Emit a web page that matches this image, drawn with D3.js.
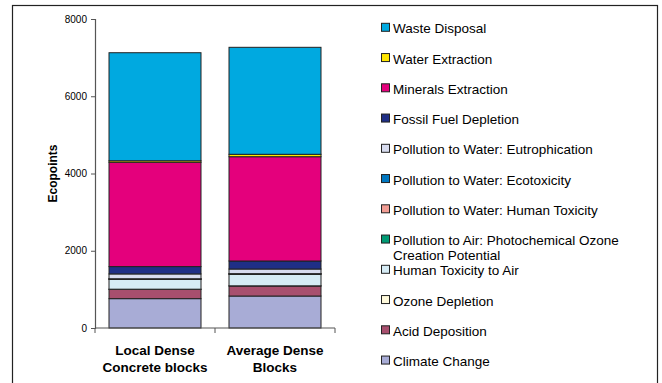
<!DOCTYPE html>
<html><head><meta charset="utf-8">
<script src="https://cdn.jsdelivr.net/npm/d3@7"></script>
<style>body{margin:0;background:#fff;}svg{display:block;font-family:"Liberation Sans",Arial,sans-serif;}</style>
</head><body>
<svg id="c" width="662" height="383"></svg>
<script>
const categories = [["Local Dense","Concrete blocks"],["Average Dense","Blocks"]];
const seriesNames = ["Climate Change","Acid Deposition","Ozone Depletion","Human Toxicity to Air","Pollution to Air: Photochemical Ozone Creation Potential","Pollution to Water: Human Toxicity","Pollution to Water: Ecotoxicity","Pollution to Water: Eutrophication","Fossil Fuel Depletion","Minerals Extraction","Water Extraction","Waste Disposal"];
const localValues   = [760, 240, 5, 255, 5, 5, 5, 125, 190, 2700, 40, 2797];
const averageValues = [828, 259, 5, 300, 5, 5, 5, 120, 208, 2700, 62, 2770];
const seriesColors = ["#a8acd6","#a84f6e","#fffadc","#d6ecf5","#009a74","#f29d94","#0077c0","#d8dcef","#1f2f86","#e4007c","#ffe600","#00a9e0"];
const yTicks = [0, 2000, 4000, 6000, 8000];

const svg = d3.select("#c");
svg.append("rect").attr("x",12.5).attr("y",5.5).attr("width",645).attr("height",400)
  .attr("fill","#fff").attr("stroke","#222").attr("stroke-width",1.2);

const y = d3.scaleLinear().domain([0,8000]).range([328,19]);
const x = d3.scaleBand().domain([0,1]).range([95,335]).paddingInner(28/120).paddingOuter(14/120);

const rows = [localValues, averageValues].map((v,i)=>{const o={cat:i}; seriesNames.forEach((s,j)=>o[s]=v[j]); return o;});
const stack = d3.stack().keys(seriesNames)(rows);

const g = svg.append("g");
stack.forEach((layer,li)=>{
  g.selectAll(null).data(layer).enter().append("rect")
    .attr("x",d=>x(d.data.cat)).attr("width",x.bandwidth())
    .attr("y",d=>y(d[1])).attr("height",d=>y(d[0])-y(d[1]))
    .attr("fill",seriesColors[li]).attr("stroke","#222").attr("stroke-width",1);
});

// y axis
const yAxis = svg.append("g").attr("transform","translate(95,0)")
  .call(d3.axisLeft(y).tickValues(yTicks).tickSize(4).tickPadding(4).tickFormat(d3.format("d")));
yAxis.select(".domain").attr("stroke","#555").attr("stroke-width",1.2);
yAxis.selectAll(".tick line").attr("stroke","#555");
yAxis.selectAll("text").attr("font-size",10).attr("fill","#000").attr("font-family","Liberation Sans, Arial, sans-serif");

// x axis
svg.append("line").attr("x1",95).attr("x2",335).attr("y1",y(0)).attr("y2",y(0)).attr("stroke","#555").attr("stroke-width",1.2);
const bounds = [0,1,2].map(i=>95 + i*x.step());
svg.selectAll(null).data(bounds).enter().append("line")
  .attr("x1",d=>d).attr("x2",d=>d).attr("y1",y(0)).attr("y2",y(0)+5).attr("stroke","#555");
categories.forEach((lines,i)=>{
  const cx = x(i)+x.bandwidth()/2;
  const t = svg.append("text").attr("text-anchor","middle").attr("font-weight","bold").attr("font-size",13.5);
  lines.forEach((l,k)=>t.append("tspan").attr("x",cx).attr("y",355+k*16.5).text(l));
});

svg.append("text").attr("transform","translate(57,"+((y(0)+y(8000))/2)+") rotate(-90)")
  .attr("text-anchor","middle").attr("font-weight","bold").attr("font-size",12).text("Ecopoints");

// legend (reverse order)
const legendItems = seriesNames.map((s,i)=>({name:s,color:seriesColors[i]})).reverse();
const legendLabels = {"Pollution to Air: Photochemical Ozone Creation Potential":["Pollution to Air: Photochemical Ozone","Creation Potential"]};
legendItems.forEach((d,i)=>{
  const cy = 27.3 + i*30.25;
  svg.append("rect").attr("x",381.5).attr("y",cy-4).attr("width",8).attr("height",8)
    .attr("fill",d.color).attr("stroke","#222").attr("stroke-width",1);
  const lines = legendLabels[d.name] || [d.name];
  const t = svg.append("text").attr("font-size",13.5).attr("fill","#000");
  lines.forEach((l,k)=>t.append("tspan").attr("x",393).attr("y",cy+6+k*15).text(l));
});
</script>
</body></html>
